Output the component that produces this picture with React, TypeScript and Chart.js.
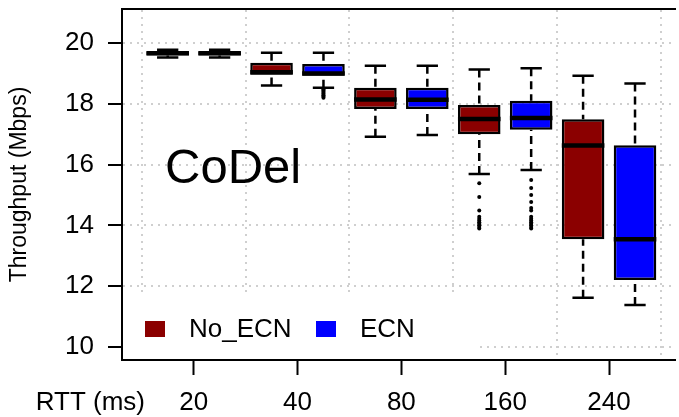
import React, { useEffect, useRef } from 'react';
import { Chart, registerables } from 'chart.js';

Chart.register(...registerables);

// RTT groups along the x axis
const rttLabels = ['20', '40', '80', '160', '240'];

// Throughput (Mbps) five-number summaries, one entry per RTT group
const noEcnLow = [19.52, 18.6, 16.92, 15.69, 11.62];
const noEcnQ1 = [19.59, 18.96, 17.83, 17.0, 13.54];
const noEcnMedian = [19.66, 19.04, 18.14, 17.5, 16.63];
const noEcnQ3 = [19.72, 19.35, 18.53, 17.96, 17.49];
const noEcnHigh = [19.78, 19.68, 19.25, 19.13, 18.92];

const ecnLow = [19.52, 18.53, 16.97, 15.82, 11.38];
const ecnQ1 = [19.59, 18.92, 17.83, 17.15, 12.2];
const ecnMedian = [19.66, 19.0, 18.13, 17.53, 13.54];
const ecnQ3 = [19.72, 19.31, 18.53, 18.1, 16.64];
const ecnHigh = [19.78, 19.68, 19.25, 19.17, 18.67];

// Points beyond the whiskers
const noEcnOutliers: number[][] = [
  [],
  [],
  [],
  [15.39, 14.93, 14.49, 14.28, 14.22, 14.16, 14.1, 14.05, 14.0, 13.95, 13.9],
  [],
];
const ecnOutliers: number[][] = [
  [],
  [18.48, 18.44, 18.4, 18.36, 18.32, 18.28, 18.24, 18.2],
  [],
  [15.49, 15.23, 15.0, 14.77, 14.57, 14.49, 14.28, 14.22, 14.16, 14.1, 14.05, 14.0, 13.95, 13.9],
  [],
];

const yTicks = [10, 12, 14, 16, 18, 20];

const FONT = '"Liberation Sans", Arial, Helvetica, sans-serif';
const RED = '#8B0000';
const BLUE = '#0000FF';
const GRID = '#cfcfcf';

const series = [
  { name: 'No_ECN', color: RED, low: noEcnLow, q1: noEcnQ1, median: noEcnMedian, q3: noEcnQ3, high: noEcnHigh, outliers: noEcnOutliers },
  { name: 'ECN', color: BLUE, low: ecnLow, q1: ecnQ1, median: ecnMedian, q3: ecnQ3, high: ecnHigh, outliers: ecnOutliers },
];

// Each RTT group holds two adjacent boxes: No_ECN then ECN
const boxPos = (group: number, s: number) => group * 2 + 1 + s;
const groupCenters = rttLabels.map((_, i) => i * 2 + 1.5);
const groupEdges = [0, 1, 2, 3, 4, 5].map((i) => i * 2 + 0.5);

const boxPlotPlugin = {
  id: 'boxPlotExtras',
  beforeDatasetsDraw(chart: any) {
    const { ctx, chartArea: a, scales } = chart;
    const x = scales.x;
    const y = scales.y;
    ctx.save();

    // legend panel (white background over the grid)
    ctx.fillStyle = '#ffffff';
    ctx.fillRect(a.left + 1, a.bottom - 67, 355, 66);
    ctx.font = `26px ${FONT}`;
    ctx.textAlign = 'left';
    ctx.textBaseline = 'alphabetic';
    const legendX = [a.left + 23, a.left + 194];
    series.forEach((s, i) => {
      ctx.fillStyle = s.color;
      ctx.fillRect(legendX[i], a.bottom - 39, 20, 16);
      ctx.fillStyle = '#000';
      ctx.fillText(s.name, legendX[i] + 44, a.bottom - 23);
    });

    // panel annotation
    ctx.font = `49px ${FONT}`;
    ctx.fillStyle = '#000';
    ctx.fillText('CoDel', x.getPixelForValue(0.95), y.getPixelForValue(15.4));

    // whiskers and staples
    chart.data.datasets.forEach((ds: any, di: number) => {
      const st = ds.boxStats;
      if (!st) return;
      const meta = chart.getDatasetMeta(di);
      meta.data.forEach((el: any, i: number) => {
        const cx = el.x;
        const w = el.width;
        const yLo = y.getPixelForValue(st.low[i]);
        const yHi = y.getPixelForValue(st.high[i]);
        const yQ1 = y.getPixelForValue(st.q1[i]);
        const yQ3 = y.getPixelForValue(st.q3[i]);
        ctx.strokeStyle = '#000';
        ctx.lineWidth = 2.5;
        ctx.lineCap = 'butt';
        ctx.setLineDash([8, 5]);
        ctx.beginPath();
        ctx.moveTo(cx, yHi);
        ctx.lineTo(cx, yQ3);
        ctx.moveTo(cx, yLo);
        ctx.lineTo(cx, yQ1);
        ctx.stroke();
        ctx.setLineDash([]);
        ctx.beginPath();
        ctx.moveTo(cx - w / 4, yHi);
        ctx.lineTo(cx + w / 4, yHi);
        ctx.moveTo(cx - w / 4, yLo);
        ctx.lineTo(cx + w / 4, yLo);
        ctx.stroke();
      });
    });
    ctx.restore();
  },
  afterDatasetsDraw(chart: any) {
    const { ctx, scales } = chart;
    const y = scales.y;
    ctx.save();
    ctx.strokeStyle = '#000';
    ctx.lineWidth = 4.5;
    chart.data.datasets.forEach((ds: any, di: number) => {
      const st = ds.boxStats;
      if (!st) return;
      const meta = chart.getDatasetMeta(di);
      meta.data.forEach((el: any, i: number) => {
        const ym = y.getPixelForValue(st.median[i]);
        ctx.beginPath();
        ctx.moveTo(el.x - el.width / 2, ym);
        ctx.lineTo(el.x + el.width / 2, ym);
        ctx.stroke();
      });
    });
    ctx.restore();
  },
  afterDraw(chart: any) {
    const { ctx, chartArea: a, scales } = chart;
    const xs = scales.x;
    const opts = xs.options;
    const yText = xs.top + opts.grid.tickLength + opts.ticks.padding + 15.6;
    ctx.save();
    ctx.font = `26px ${FONT}`;
    ctx.fillStyle = '#000';
    ctx.textAlign = 'right';
    ctx.textBaseline = 'middle';
    ctx.fillText('RTT (ms)', a.left + 23, yText);
    ctx.restore();
  },
};

export default function App() {
  const canvasRef = useRef<HTMLCanvasElement | null>(null);

  useEffect(() => {
    const canvas = canvasRef.current;
    if (!canvas) return;

    const boxDatasets = series.map((s, si) => ({
      type: 'bar' as const,
      label: s.name,
      data: s.q1.map((q, i) => ({ x: boxPos(i, si), y: [q, s.q3[i]] })),
      backgroundColor: s.color,
      borderColor: '#000',
      borderWidth: 2.5,
      borderSkipped: false,
      grouped: false,
      barPercentage: 0.82,
      categoryPercentage: 1,
      xAxisID: 'x',
      yAxisID: 'y',
      boxStats: { low: s.low, q1: s.q1, median: s.median, q3: s.q3, high: s.high },
    }));

    const outlierData: { x: number; y: number }[] = [];
    series.forEach((s, si) => {
      s.outliers.forEach((vals, i) => {
        vals.forEach((v) => outlierData.push({ x: boxPos(i, si), y: v }));
      });
    });

    const chart = new Chart(canvas, {
      type: 'bar',
      data: {
        datasets: [
          ...boxDatasets,
          {
            type: 'scatter' as const,
            label: 'outliers',
            data: outlierData,
            backgroundColor: '#000',
            borderWidth: 0,
            pointRadius: 2,
            xAxisID: 'x',
            yAxisID: 'y',
          },
        ] as any,
      },
      options: {
        animation: false,
        responsive: false,
        devicePixelRatio: 1,
        events: [],
        layout: { padding: { top: 9, right: 0, left: 0, bottom: 0 } },
        plugins: { legend: { display: false }, tooltip: { enabled: false } },
        scales: {
          x: {
            type: 'linear',
            position: 'bottom',
            min: 0.12,
            max: 10.77,
            offset: false,
            afterBuildTicks: (scale: any) => {
              scale.ticks = groupCenters.map((v) => ({ value: v }));
            },
            afterFit: (scale: any) => {
              scale.height = 57;
              scale.paddingLeft = 0;
              scale.paddingRight = 0;
            },
            ticks: {
              font: { family: FONT, size: 26 },
              color: '#000',
              padding: 12,
              maxRotation: 0,
              autoSkip: false,
              callback: (value: any) => rttLabels[Math.round((Number(value) - 1.5) / 2)],
            },
            grid: {
              offset: false,
              drawOnChartArea: false,
              drawTicks: true,
              tickLength: 15,
              tickColor: '#000',
              tickWidth: 2,
            },
            border: { display: true, color: '#000', width: 2 },
          },
          xg: {
            type: 'linear',
            position: 'top',
            min: 0.12,
            max: 10.77,
            offset: false,
            afterBuildTicks: (scale: any) => {
              scale.ticks = groupEdges.map((v) => ({ value: v }));
            },
            afterFit: (scale: any) => {
              scale.height = 0;
              scale.paddingLeft = 0;
              scale.paddingRight = 0;
            },
            ticks: { display: false },
            grid: {
              offset: false,
              color: GRID,
              lineWidth: 2,
              drawTicks: false,
              tickLength: 0,
            },
            border: { display: true, color: '#000', width: 2, dash: [2, 5] },
          },
          y: {
            type: 'linear',
            position: 'left',
            min: 9.57,
            max: 21.12,
            beginAtZero: false,
            afterBuildTicks: (scale: any) => {
              scale.ticks = yTicks.map((v) => ({ value: v }));
            },
            afterFit: (scale: any) => {
              scale.width = 122;
              scale.paddingTop = 0;
              scale.paddingBottom = 0;
            },
            ticks: {
              font: { family: FONT, size: 26 },
              color: '#000',
              padding: 14,
            },
            grid: {
              color: GRID,
              lineWidth: 2,
              drawTicks: true,
              tickLength: 14,
              tickColor: '#000',
              tickWidth: 2,
            },
            border: { display: true, color: '#000', width: 2, dash: [2, 5] },
            title: {
              display: true,
              text: 'Throughput (Mbps)',
              font: { family: FONT, size: 23 },
              color: '#000',
              padding: { top: 6, bottom: 0 },
            },
          },
        },
      } as any,
      plugins: [boxPlotPlugin],
    });

    return () => chart.destroy();
  }, []);

  return (
    <div style={{ position: 'fixed', left: 0, top: 0, width: 679, height: 417, background: '#fff' }}>
      <canvas ref={canvasRef} width={679} height={417} />
    </div>
  );
}
